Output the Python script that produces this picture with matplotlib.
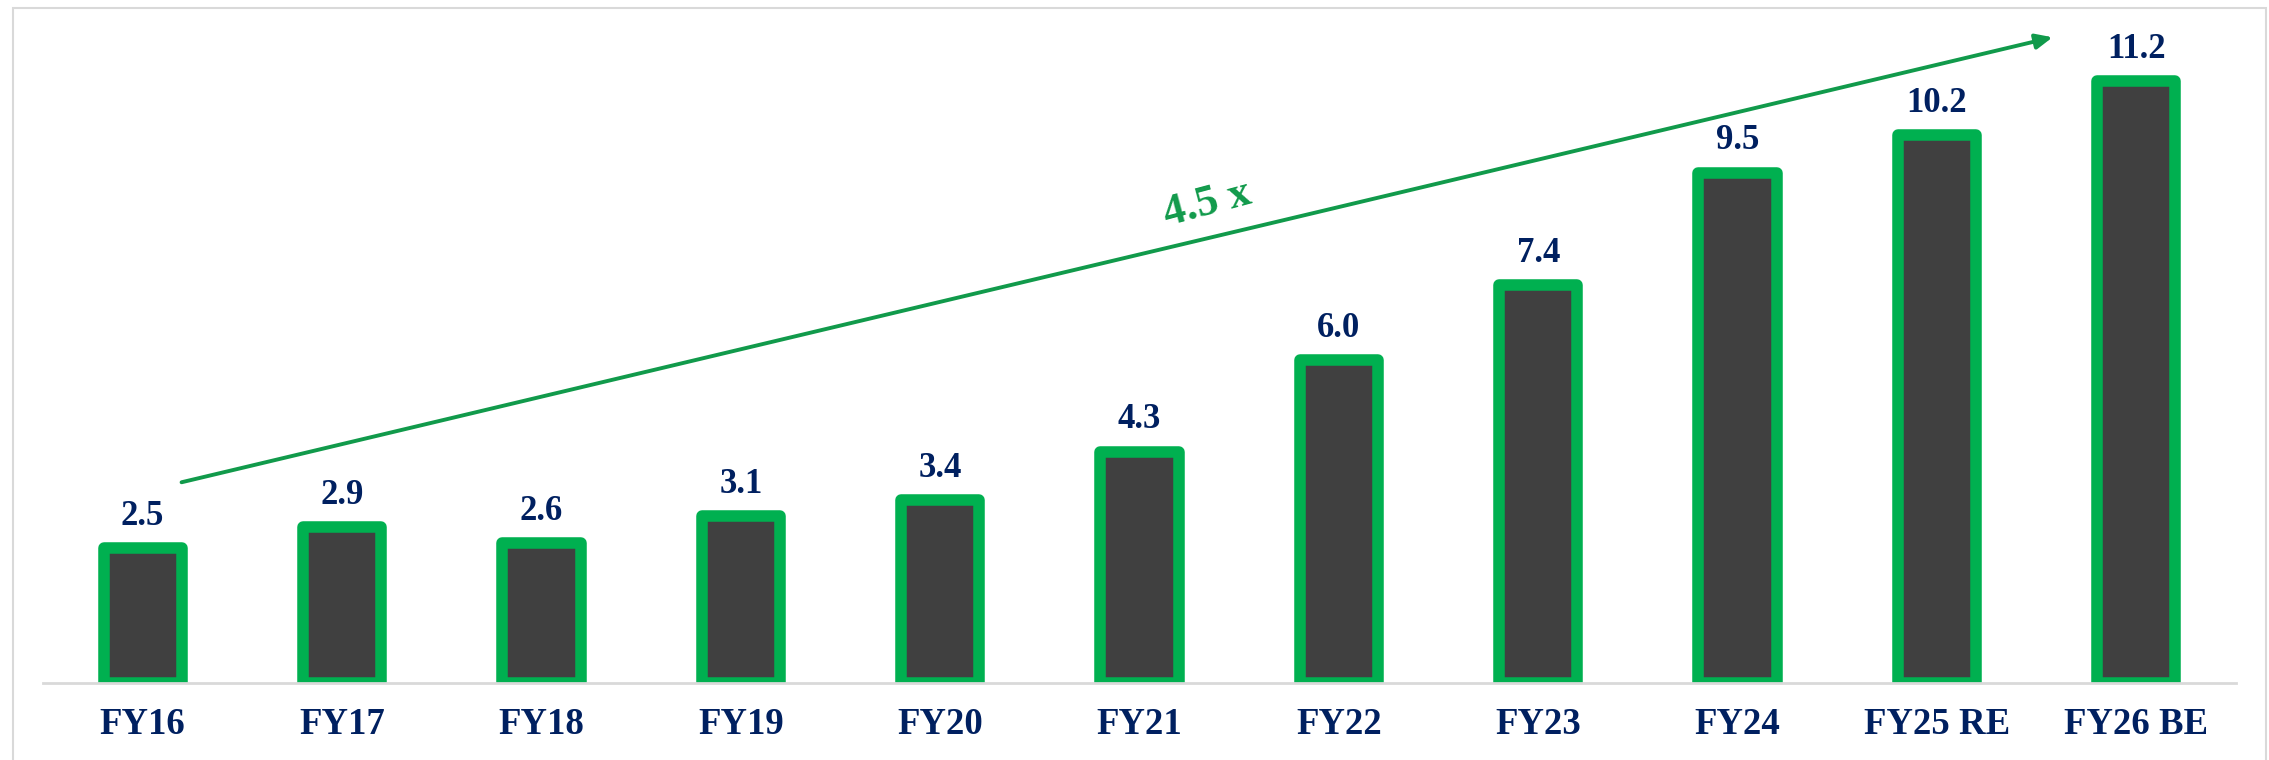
import matplotlib.pyplot as plt
from matplotlib.patches import Rectangle

years = ["FY16", "FY17", "FY18", "FY19", "FY20", "FY21", "FY22", "FY23", "FY24", "FY25 RE", "FY26 BE"]
values = [2.5, 2.9, 2.6, 3.1, 3.4, 4.3, 6.0, 7.4, 9.5, 10.2, 11.2]
growth_label = "4.5 x"

NAVY = "#002060"
BAR_GREEN = "#00B050"
ARROW_GREEN = "#119A4B"
FILL = "#404040"
GRID_GRAY = "#D9D9D9"

plt.rcParams["font.family"] = ["Liberation Serif", "DejaVu Serif"]

fig = plt.figure(figsize=(22.69, 7.60), dpi=100)
ax = fig.add_axes([43 / 2269, 77.5 / 760, (2236 - 43) / 2269, 671 / 760])

x = list(range(len(years)))
bars = ax.bar(x, values, width=0.393, color=FILL, edgecolor=BAR_GREEN, linewidth=8.3, zorder=2)
for b in bars:
    b.set_joinstyle("round")

for xi, v in zip(x, values):
    ax.annotate(f"{v:.1f}", (xi, v), xytext=(0, 11), textcoords="offset points",
                ha="center", va="bottom", fontsize=25, fontweight="bold", color=NAVY)

# growth arrow across the chart
ax.annotate("", xy=(9.58, 12.02), xytext=(0.195, 3.73),
            arrowprops=dict(arrowstyle="-|>,head_length=1.0,head_width=0.45",
                            color=ARROW_GREEN, lw=2.8, shrinkA=0, shrinkB=0),
            annotation_clip=False)
ax.text(5.34, 8.92, growth_label, ha="center", va="center", rotation=15,
        fontsize=32, fontweight="bold", color=ARROW_GREEN)

ax.set_xlim(-0.5, 10.5)
ax.set_ylim(0, 12.5)
ax.set_xticks(x)
ax.set_xticklabels(years, fontsize=26.5, fontweight="bold", color=NAVY)
ax.tick_params(axis="x", length=0, pad=18)
ax.set_yticks([])
for side in ["left", "right", "top"]:
    ax.spines[side].set_visible(False)
ax.spines["bottom"].set_color(GRID_GRAY)
ax.spines["bottom"].set_linewidth(2)
ax.spines["bottom"].set_zorder(3)

# light frame around the slide area
fig.patches.append(Rectangle((13 / 2269, -0.05), (2266 - 13) / 2269, 1.05 - 8 / 760,
                             transform=fig.transFigure, fill=False,
                             edgecolor=GRID_GRAY, linewidth=1.5))

fig.savefig("out.png", dpi=100)
